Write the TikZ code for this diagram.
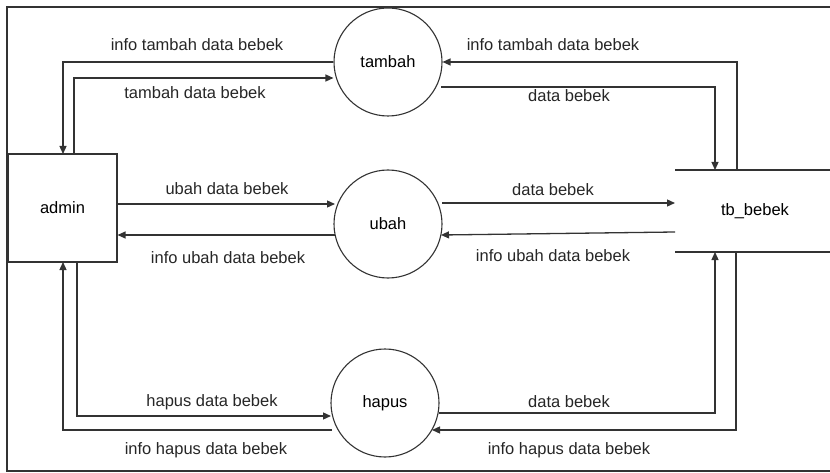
\documentclass[tikz,border=0pt]{standalone}
\usepackage{fontspec}
\setmainfont{Liberation Sans}
\usetikzlibrary{arrows.meta}
\definecolor{ln}{HTML}{333333}
\begin{document}
\begin{tikzpicture}[x=1pt,y=-1pt,
  flow/.style={draw=ln,line width=1.3pt,-{Triangle[length=8pt,width=7pt]}},
  lbl/.style={font=\fontsize{16.5}{18}\selectfont,text=black!85,inner sep=0pt},
  proc/.style={circle,draw=ln,line width=1.1pt,minimum size=108pt,inner sep=0pt,font=\fontsize{16.5}{18}\selectfont},
  ent/.style={rectangle,draw=ln,line width=1.1pt,minimum width=109pt,minimum height=108pt,inner sep=0pt,font=\fontsize{16.5}{18}\selectfont}]
\useasboundingbox (0,0) rectangle (830,473);
% outer frame
\draw[ln,line width=1.3pt] (835,7) -- (7,7) -- (7,471) -- (835,471);
% nodes
\node[ent] (admin) at (62.5,208) {admin};
\node[proc] (tambah) at (388,62) {tambah};
\node[proc] (ubah) at (388,224) {ubah};
\node[proc] (hapus) at (385,403) {hapus};
\node[inner sep=0pt,font=\fontsize{16.5}{18}\selectfont] (tb) at (755,211) {tb\_bebek};
\coordinate (tbTL) at (675,170);
\coordinate (tbTR) at (832,170);
\coordinate (tbBL) at (675,252);
\coordinate (tbBR) at (832,252);
\draw[ln,line width=1.1pt] (tbTL) -- (tbTR);
\draw[ln,line width=1.1pt] (tbBL) -- (tbBR);
% tambah flows
\draw[flow] (tambah.west |- 0,62) -- (63,62) -- (63,154);
\draw[flow] (74,154) -- (74,78) -- (tambah.west |- 0,78);
\draw[flow] (737,170) -- (737,62) -- (tambah.east);
\draw[flow] (441,87) -- (715,87) -- (715,170);
% ubah flows
\draw[flow] (admin.east |- 0,204) -- (335,204);
\draw[flow] (335,235) -- (admin.east |- 0,235);
\draw[flow] (442,203) -- (675,203);
\draw[flow] (675,232) -- (441,235);
% hapus flows
\draw[flow] (77,262) -- (77,416) -- (331,416);
\draw[flow] (332,430) -- (63,430) -- (63,262);
\draw[flow] (439,413) -- (715,413) -- (715,252);
\draw[flow] (736,252) -- (736,430) -- (432,430);
% labels
\node[lbl] (l1) at (197,45) {info tambah data bebek};
\node[lbl] (l2) at (195,93) {tambah data bebek};
\node[lbl] (l3) at (553,45) {info tambah data bebek};
\node[lbl] (l4) at (569,96) {data bebek};
\node[lbl] (l5) at (227,189) {ubah data bebek};
\node[lbl] (l6) at (228,258) {info ubah data bebek};
\node[lbl] (l7) at (553,190) {data bebek};
\node[lbl] (l8) at (553,256) {info ubah data bebek};
\node[lbl] (l9) at (212,402) {hapus data bebek};
\node[lbl] (l10) at (206,450) {info hapus data bebek};
\node[lbl] (l11) at (569,402) {data bebek};
\node[lbl] (l12) at (569,450) {info hapus data bebek};
\end{tikzpicture}
\end{document}
